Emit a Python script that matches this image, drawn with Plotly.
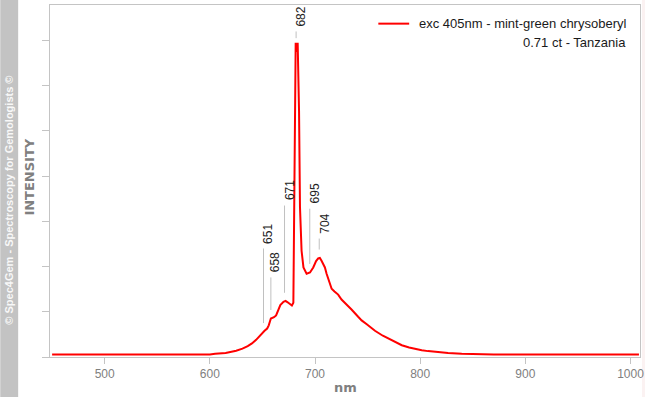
import numpy as np
import plotly.graph_objects as go

# ---- data ----
wavelength = [450, 500, 550, 600, 605, 615, 625, 631, 636, 640, 644, 647, 650, 652,
              654.5, 656, 658, 661, 663, 665, 667, 670, 672, 674, 676, 678, 679.4,
              680.2, 681.0, 681.6, 682.5, 683.5, 684.8, 685.7, 687.2, 689.0, 692.0,
              695.2, 698.3, 701.0, 703.0, 704.6, 706.2, 709.4, 711.0, 714.2, 715.8,
              718.5, 722.0, 725.2, 729.5, 734.7, 741.0, 744.3, 749.5, 757.0, 764.5,
              769.5, 776.5, 782.5, 789.5, 795.0, 801.5, 807.5, 816.5, 826.5, 839.5,
              851.5, 870, 900, 950, 1000, 1008]
intensity = [0.053, 0.053, 0.053, 0.055, 0.07, 0.09, 0.14, 0.185, 0.24, 0.30, 0.38, 0.46,
             0.54, 0.58, 0.63, 0.70, 0.85, 0.88, 0.92, 1.06, 1.15, 1.22, 1.24, 1.21,
             1.17, 1.14, 1.20, 3.2, 5.2, 6.95, 6.75, 6.95, 5.44, 3.31, 2.35, 1.98,
             1.84, 1.87, 1.98, 2.12, 2.18, 2.19, 2.13, 1.98, 1.84, 1.62, 1.51, 1.45,
             1.38, 1.27, 1.18, 1.05, 0.89, 0.81, 0.72, 0.58, 0.47, 0.41, 0.32, 0.26,
             0.21, 0.18, 0.15, 0.13, 0.105, 0.088, 0.07, 0.06, 0.055, 0.053, 0.053,
             0.053, 0.053]
peaks = [651, 658, 671, 682, 695, 704]
label_heights = [2.40, 1.76, 3.35, 7.2, 3.28, 2.62]
x_ticks = [500, 600, 700, 800, 900, 1000]
y_ticks = [0, 1, 2, 3, 4, 5, 6, 7]
legend_lines = ["exc 405nm - mint-green chrysoberyl", "0.71 ct - Tanzania"]
y_title = "INTENSITY"
x_title = "nm"
credit = "© Spec4Gem - Spectroscopy for Gemologists ©"

FONT = "Liberation Sans, Arial, sans-serif"
GRAY = "#808080"
FRAME = "#c4c4c4"

fig = go.Figure()
fig.add_trace(go.Scatter(x=wavelength, y=intensity, mode="lines",
                         line=dict(color="#ff0000", width=2), showlegend=False,
                         hoverinfo="skip"))

shapes = []
annotations = []
curve_at = np.interp(peaks, wavelength, intensity)
for p, top, cv in zip(peaks, label_heights, curve_at):
    shapes.append(dict(type="line", xref="x", yref="y", x0=p, x1=p,
                       y0=cv + 0.19, y1=top, line=dict(color="#c0c0c0", width=1)))
    annotations.append(dict(x=p, y=top, xref="x", yref="y", text=str(p),
                            textangle=-90, showarrow=False, xanchor="center",
                            yanchor="bottom", xshift=5, yshift=3,
                            font=dict(family=FONT, size=12, color="#222222")))

# left credit band and faint right edge strip
shapes.append(dict(type="rect", xref="paper", yref="paper", x0=-50 / 593, x1=-32 / 593,
                   y0=-41 / 353, y1=1 + 5 / 353, fillcolor="#c3c3c3",
                   line=dict(width=0), layer="below"))
shapes.append(dict(type="rect", xref="paper", yref="paper", x0=595 / 593, x1=598 / 593,
                   y0=-41 / 353, y1=1 + 5 / 353, fillcolor="#fbf2f2",
                   line=dict(width=0), layer="below"))
annotations.append(dict(x=-41 / 593, y=1 - (200 - 4) / 353, xref="paper", yref="paper",
                        text=credit, textangle=-90, showarrow=False,
                        xanchor="center", yanchor="middle",
                        font=dict(family=FONT, size=11, color="#f8f8f8", weight="bold")))
# axis titles
annotations.append(dict(x=-21 / 593, y=1 - (177 - 4) / 353, xref="paper", yref="paper",
                        text=y_title, textangle=-90, showarrow=False,
                        xanchor="center", yanchor="middle",
                        font=dict(family="DejaVu Sans, sans-serif", size=13,
                                  color=GRAY, weight="bold")))
annotations.append(dict(x=0.5, y=-(388 - 357) / 353, xref="paper", yref="paper",
                        text=x_title, showarrow=False, xanchor="center", yanchor="middle",
                        font=dict(family="DejaVu Sans, sans-serif", size=13,
                                  color=GRAY, weight="bold")))
# legend
shapes.append(dict(type="line", xref="paper", yref="paper", x0=(380 - 50) / 593,
                   x1=(411 - 50) / 593, y0=1 - (22.7 - 4) / 353, y1=1 - (22.7 - 4) / 353,
                   line=dict(color="#ff0000", width=2)))
for i, txt in enumerate(legend_lines):
    yc = 23 + 18.5 * i
    annotations.append(dict(x=(631 - 50) / 593, y=1 - (yc - 4) / 353, xref="paper",
                            yref="paper", text=txt, showarrow=False, xanchor="right",
                            yanchor="middle",
                            font=dict(family=FONT, size=13, color="#1a1a1a")))

fig.update_layout(
    width=648, height=397,
    margin=dict(l=50, r=5, t=4, b=40),
    paper_bgcolor="white", plot_bgcolor="white",
    shapes=shapes, annotations=annotations,
    xaxis=dict(range=[448, 1009], tickvals=x_ticks, ticks="outside", ticklen=6,
               tickcolor=FRAME, showgrid=False, zeroline=False, showline=True,
               linecolor=FRAME, linewidth=1, mirror=True,
               tickfont=dict(family=FONT, size=12, color=GRAY)),
    yaxis=dict(range=[0, 7.785], tickvals=y_ticks, showticklabels=False,
               ticks="outside", ticklen=7, tickcolor=FRAME, showgrid=False,
               zeroline=False, showline=True, linecolor=FRAME, linewidth=1, mirror=True),
)

fig.write_html("out.html", config={"displayModeBar": False},
               post_script="document.body.style.margin='0';document.body.style.padding='0';")
